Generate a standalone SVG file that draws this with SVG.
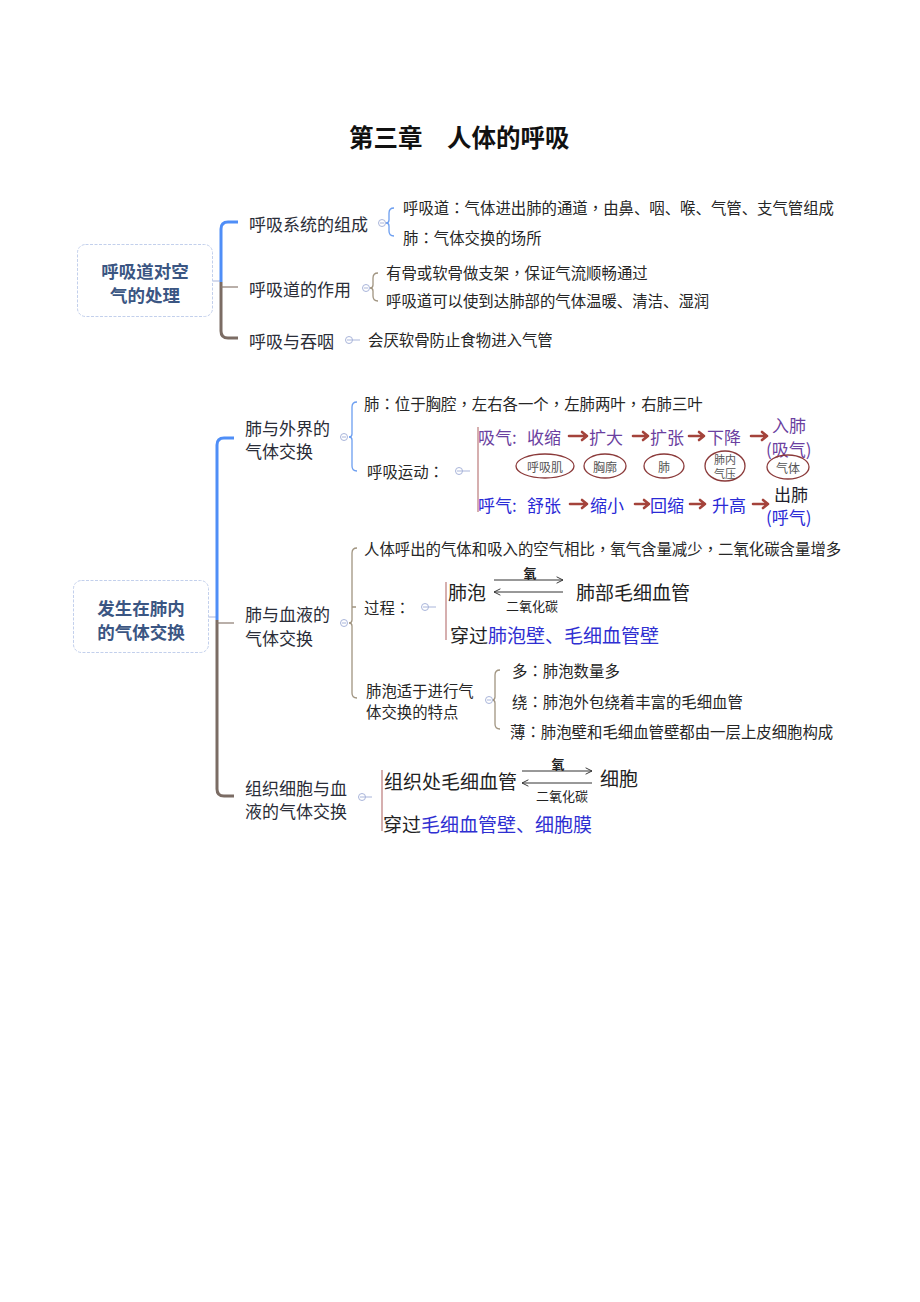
<svg xmlns="http://www.w3.org/2000/svg" width="920" height="1302" viewBox="0 0 920 1302">
<defs>
<style>
text{font-family:"Noto Sans CJK SC","Noto Sans",sans-serif;dominant-baseline:central;}
.t{font-size:15.4px;fill:#262626;}
.b{font-size:17px;fill:#2a2d38;}
.root{font-size:17.5px;font-weight:bold;fill:#3b5683;text-anchor:middle;}
.box{fill:#fff;stroke:#c3d0ec;stroke-width:1;stroke-dasharray:3 1.5;}
.in{font-size:17px;fill:#6b3fa0;}
.ex{font-size:17px;fill:#2a2ad6;}
.big{font-size:19px;fill:#222;}
.blue{fill:#2f2fd2;}
.sm{font-size:13px;fill:#222;text-anchor:middle;}
.el{fill:none;stroke:#8b3a3a;stroke-width:1.3;}
.elt{font-size:12px;fill:#555;text-anchor:middle;}
.tb{fill:none;stroke:#4f8ef7;stroke-width:3;}
.tr{fill:none;stroke:#7b6c64;stroke-width:3;}
.thin{fill:none;stroke:#8a7a70;stroke-width:1.2;}
.bb{fill:none;stroke:#6c9ef0;stroke-width:1.3;}
.bt{fill:none;stroke:#a09480;stroke-width:1.3;}
.mk{fill:#fff;stroke:#a9b5da;stroke-width:1;}
.ml{stroke:#a9b5da;stroke-width:1;}
.pk{stroke:#c89494;stroke-width:1.5;}
.ar{fill:none;stroke:#a4433b;stroke-width:2.6;stroke-linecap:round;stroke-linejoin:round;}
.la{stroke:#333;stroke-width:1;fill:none;}
.p{font-family:"Noto Sans CJK TC","Noto Sans CJK SC",sans-serif;}
</style>
<marker id="ah" viewBox="0 0 10 10" refX="9" refY="5" markerWidth="8" markerHeight="8" markerUnits="userSpaceOnUse" orient="auto-start-reverse">
<path d="M1,1 L9,5 L1,9" fill="none" stroke="#333" stroke-width="1.2"/>
</marker>
</defs>
<rect width="920" height="1302" fill="#fff"/>

<g id="title"><text x="349" y="136" style="font-size:24.5px;font-weight:bold;fill:#111;">第三章　人体的呼吸</text></g>

<g id="connectors">
<line x1="213" y1="281" x2="221" y2="281" class="ml"/>
<path class="tb" d="M238,222 H228 Q221,222 221,229 V282"/>
<path class="tr" d="M221,282 V331 Q221,338 228,338 H238"/>
<path class="thin" d="M221,287 H238"/>
<line x1="209" y1="617" x2="217" y2="617" class="ml"/>
<path class="tb" d="M234,438 H224 Q217,438 217,445 V620"/>
<path class="tr" d="M217,620 V789 Q217,796 224,796 H234"/>
<path class="thin" d="M217,623 H234"/>
<path class="bb" d="M394,208 Q389,208 389,213 V220 Q389,223 386,223 Q389,223 389,226 V231 Q389,236 394,236"/>
<path class="bt" d="M378,273 Q373,273 373,278 V285 Q373,288 370,288 Q373,288 373,291 V296 Q373,301 378,301"/>
<path class="bb" d="M357,402 Q352,402 352,407 V434 Q352,437 349,437 Q352,437 352,440 V466 Q352,471 357,471"/>
<path class="bt" d="M357,548 Q352,548 352,553 V620 Q352,623 349,623 Q352,623 352,626 V693 Q352,698 357,698 M352,607 H356"/>
<path class="bt" d="M500,670 Q495,670 495,675 V697 Q495,700 492,700 Q495,700 495,703 V724 Q495,729 500,729"/>
<g>
<circle class="mk" cx="382" cy="223" r="3.5"/><line class="ml" x1="380" y1="223" x2="384" y2="223"/>
<circle class="mk" cx="366" cy="288" r="3.5"/><line class="ml" x1="364" y1="288" x2="368" y2="288"/>
<circle class="mk" cx="349" cy="340" r="3.5"/><line class="ml" x1="347" y1="340" x2="360" y2="340"/>
<circle class="mk" cx="344" cy="437" r="3.5"/><line class="ml" x1="342" y1="437" x2="346" y2="437"/>
<circle class="mk" cx="459" cy="471" r="3.5"/><line class="ml" x1="457" y1="471" x2="470" y2="471"/>
<circle class="mk" cx="344" cy="623" r="3.5"/><line class="ml" x1="342" y1="623" x2="346" y2="623"/>
<circle class="mk" cx="425" cy="607" r="3.5"/><line class="ml" x1="423" y1="607" x2="436" y2="607"/>
<circle class="mk" cx="489" cy="700" r="3.5"/><line class="ml" x1="487" y1="700" x2="491" y2="700"/>
<circle class="mk" cx="362" cy="797" r="3.5"/><line class="ml" x1="360" y1="797" x2="372" y2="797"/>
</g>
<line class="pk" x1="478" y1="427" x2="478" y2="512"/>
<line class="pk" x1="446" y1="582" x2="446" y2="640"/>
<line class="pk" x1="382" y1="770" x2="382" y2="831"/>
</g>

<g id="root1">
<rect class="box" x="77.5" y="244.5" width="135" height="72" rx="8"/>
<text class="root" x="145" y="270">呼吸道对空</text>
<text class="root" x="145" y="294">气的处理</text>
</g>
<g id="n-zucheng">
<text class="b" x="249" y="223">呼吸系统的组成</text>
<text class="t" x="403" y="207">呼吸道<tspan class="p">：</tspan>气体进出肺的通道<tspan class="p">，</tspan>由鼻、咽、喉、气管、支气管组成</text>
<text class="t" x="403" y="237">肺<tspan class="p">：</tspan>气体交换的场所</text>
</g>
<g id="n-zuoyong">
<text class="b" x="249" y="288">呼吸道的作用</text>
<text class="t" x="386" y="272">有骨或软骨做支架<tspan class="p">，</tspan>保证气流顺畅通过</text>
<text class="t" x="386" y="300">呼吸道可以使到达肺部的气体温暖、清洁、湿润</text>
</g>
<g id="n-tunyan">
<text class="b" x="249" y="340">呼吸与吞咽</text>
<text class="t" x="368" y="339">会厌软骨防止食物进入气管</text>
</g>

<g id="root2">
<rect class="box" x="73.5" y="580.5" width="135" height="72" rx="8"/>
<text class="root" x="141" y="607">发生在肺内</text>
<text class="root" x="141" y="631">的气体交换</text>
</g>

<g id="n-waijie">
<text class="b" x="245" y="427">肺与外界的</text>
<text class="b" x="245" y="450">气体交换</text>
<text class="t" x="364" y="403">肺<tspan class="p">：</tspan>位于胸腔<tspan class="p">，</tspan>左右各一个<tspan class="p">，</tspan>左肺两叶<tspan class="p">，</tspan>右肺三叶</text>
<text class="t" x="367" y="471">呼吸运动<tspan class="p">：</tspan></text>
</g>

<g id="n-huxi-yundong">
<text class="in" x="478" y="436">吸气:</text>
<text class="in" x="527" y="436">收缩</text>
<text class="in" x="589" y="436">扩大</text>
<text class="in" x="650" y="436">扩张</text>
<text class="in" x="707" y="436">下降</text>
<text class="in" x="772" y="424">入肺</text>
<text class="in" x="766" y="448">(吸气)</text>
<path class="ar" d="M569,436 H587 M582,432 L587,436 L582,440"/>
<path class="ar" d="M633,436 H648 M643,432 L648,436 L643,440"/>
<path class="ar" d="M689,436 H704 M699,432 L704,436 L699,440"/>
<path class="ar" d="M751,436 H767 M762,432 L767,436 L762,440"/>
<ellipse class="el" cx="545" cy="466" rx="29" ry="12"/><text class="elt" x="545" y="466">呼吸肌</text>
<ellipse class="el" cx="605" cy="466" rx="21" ry="12"/><text class="elt" x="605" y="466">胸廓</text>
<ellipse class="el" cx="664" cy="466" rx="20" ry="12"/><text class="elt" x="664" y="466">肺</text>
<ellipse class="el" cx="725" cy="466" rx="20" ry="15"/><text class="elt" x="725" y="459" style="font-size:11px">肺内</text><text class="elt" x="725" y="473" style="font-size:11px">气压</text>
<ellipse class="el" cx="788" cy="467" rx="21" ry="12"/><text class="elt" x="788" y="467">气体</text>
<text class="ex" x="478" y="504">呼气:</text>
<text class="ex" x="527" y="504">舒张</text>
<text class="ex" x="590" y="504">缩小</text>
<text class="ex" x="650" y="504">回缩</text>
<text class="ex" x="712" y="504">升高</text>
<text class="ex" x="774" y="493" style="fill:#1e1e2e">出肺</text>
<text class="ex" x="766" y="516">(呼气)</text>
<path class="ar" d="M570,504 H587 M582,500 L587,504 L582,508"/>
<path class="ar" d="M635,504 H649 M644,500 L649,504 L644,508"/>
<path class="ar" d="M690,504 H705 M700,500 L705,504 L700,508"/>
<path class="ar" d="M753,504 H768 M763,500 L768,504 L763,508"/>
</g>

<g id="n-xueye">
<text class="b" x="245" y="613">肺与血液的</text>
<text class="b" x="245" y="637">气体交换</text>
<text class="t" x="364" y="548">人体呼出的气体和吸入的空气相比<tspan class="p">，</tspan>氧气含量减少<tspan class="p">，</tspan>二氧化碳含量增多</text>
<text class="t" x="364" y="607">过程<tspan class="p">：</tspan></text>
</g>
<g id="n-guocheng">
<text class="big" x="448" y="591">肺泡</text>
<line class="la" x1="494" y1="580" x2="563" y2="580" marker-end="url(#ah)"/>
<line class="la" x1="563" y1="592" x2="494" y2="592" marker-end="url(#ah)"/>
<text class="sm" x="530" y="572" style="font-weight:bold">氧</text>
<text class="sm" x="532" y="605">二氧化碳</text>
<text class="big" x="576" y="591">肺部毛细血管</text>
<text class="big" x="450" y="634">穿过<tspan class="blue">肺泡壁、毛细血管壁</tspan></text>
</g>
<g id="n-tedian">
<text class="t" x="366" y="690">肺泡适于进行气</text>
<text class="t" x="366" y="711">体交换的特点</text>
<text class="t" x="512" y="670">多<tspan class="p">：</tspan>肺泡数量多</text>
<text class="t" x="512" y="701">绕<tspan class="p">：</tspan>肺泡外包绕着丰富的毛细血管</text>
<text class="t" x="510" y="731">薄<tspan class="p">：</tspan>肺泡壁和毛细血管壁都由一层上皮细胞构成</text>
</g>

<g id="n-zuzhi">
<text class="b" x="245" y="787">组织细胞与血</text>
<text class="b" x="245" y="810">液的气体交换</text>
<text class="big" x="384" y="780">组织处毛细血管</text>
<line class="la" x1="522" y1="771" x2="592" y2="771" marker-end="url(#ah)"/>
<line class="la" x1="592" y1="783" x2="522" y2="783" marker-end="url(#ah)"/>
<text class="sm" x="558" y="763" style="font-weight:bold">氧</text>
<text class="sm" x="562" y="795">二氧化碳</text>
<text class="big" x="600" y="777">细胞</text>
<text class="big" x="383" y="823">穿过<tspan class="blue">毛细血管壁、细胞膜</tspan></text>
</g>
</svg>
